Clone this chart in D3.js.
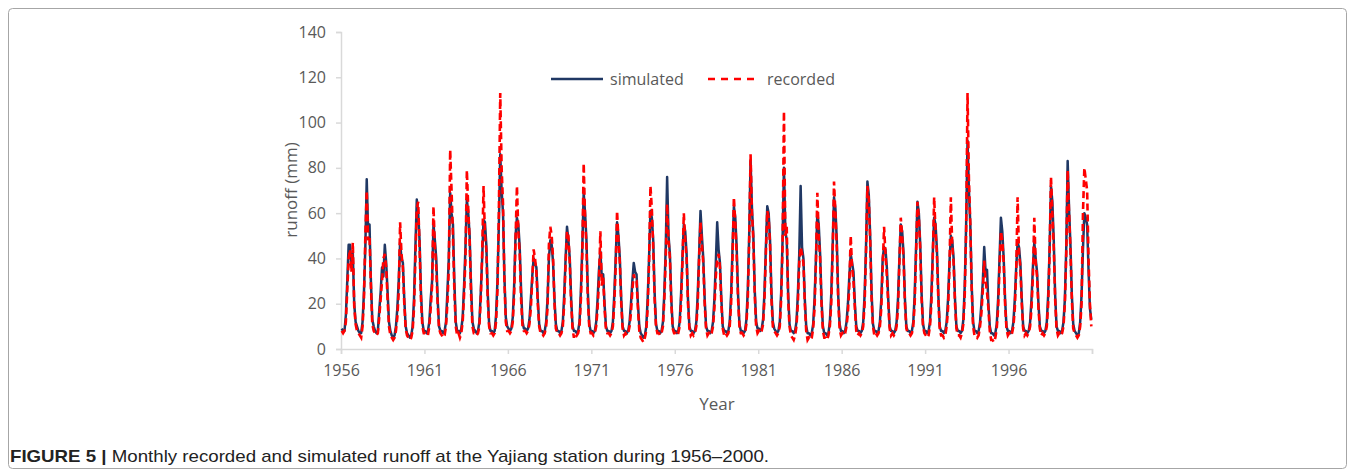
<!DOCTYPE html>
<html>
<head>
<meta charset="utf-8">
<script src="https://cdn.jsdelivr.net/npm/d3@7"></script>
<style>
	body { margin: 0; background: #fff; }
	svg { display: block; }
</style>
</head>
<body>
<svg></svg>
<script>
// monthly runoff (mm), one row of Jan..Dec per year, 1956-2000
var years = d3.range(1956, 2001);

var simulated = [
	[9,8,8,15,30,46,46,36,42,20,12,10],
	[8,7,7,12,25,45,75,52,55,30,13,10],
	[8,7,8,17,25,36,32,46,38,25,12,8],
	[6,5,6,10,18,30,47,40,38,22,10,7],
	[6,5,6,10,22,45,66,60,48,25,12,8],
	[8,7,8,12,22,30,55,48,40,22,10,8],
	[8,7,8,12,25,40,69,60,55,30,12,8],
	[8,7,9,14,28,45,66,60,50,28,12,9],
	[8,7,8,12,25,40,57,56,46,25,11,8],
	[8,7,8,15,30,55,86,70,60,32,14,10],
	[9,8,9,14,28,50,58,55,45,26,12,9],
	[9,8,9,13,22,32,40,38,36,22,11,8],
	[8,7,8,12,22,40,48,46,38,22,11,8],
	[8,7,8,12,24,40,54,48,40,22,10,8],
	[8,7,8,12,26,45,69,60,48,25,11,8],
	[8,7,8,12,22,35,43,32,33,20,10,8],
	[8,7,8,12,24,40,56,50,40,22,10,8],
	[8,7,8,12,20,30,38,34,33,20,10,7],
	[6,5,6,10,22,40,61,58,48,25,11,8],
	[8,7,8,12,25,45,76,50,42,22,10,8],
	[8,7,8,12,24,40,55,52,42,22,10,8],
	[8,7,8,12,24,42,61,50,40,22,10,8],
	[8,7,8,12,22,38,56,44,38,22,10,8],
	[8,7,8,12,24,44,63,58,45,24,11,8],
	[8,7,8,13,26,50,83,62,50,26,12,9],
	[9,8,9,13,25,45,63,60,48,25,12,9],
	[8,7,8,12,25,48,80,52,48,25,11,8],
	[8,7,8,12,24,42,72,45,40,22,10,7],
	[7,6,7,11,22,40,60,55,42,22,10,7],
	[7,6,7,12,24,45,67,62,48,24,11,8],
	[8,7,8,12,20,32,42,38,34,20,10,8],
	[8,7,8,12,24,45,74,68,50,25,11,8],
	[8,7,8,12,22,40,45,44,36,22,10,8],
	[8,7,8,12,22,40,55,52,42,22,10,8],
	[8,7,8,12,24,45,65,60,46,24,11,8],
	[8,7,8,12,24,42,58,55,44,24,10,8],
	[8,7,8,12,22,38,50,48,40,22,10,8],
	[8,7,8,13,28,55,92,70,55,28,12,8],
	[8,7,8,12,20,30,45,34,35,20,10,7],
	[7,6,7,11,22,40,58,52,40,22,10,8],
	[8,7,8,12,22,36,47,45,38,22,10,8],
	[8,7,8,12,22,36,47,40,34,20,10,8],
	[8,7,8,12,24,44,72,65,48,24,10,8],
	[8,7,8,12,22,45,83,62,46,24,11,8],
	[7,6,7,12,24,44,60,58,55,35,18,13]
];

var recorded = [
	[8,7,8,12,26,40,44,34,47,19,11,8],
	[7,6,5,10,22,50,70,48,50,28,11,8],
	[7,6,7,14,22,30,40,42,36,22,10,6],
	[5,4,5,8,14,25,56,42,36,20,9,6],
	[5,4,5,8,18,40,62,65,45,22,10,7],
	[7,6,6,10,18,28,63,45,36,20,9,7],
	[6,5,6,10,20,35,88,70,50,26,10,6],
	[7,5,7,12,24,40,79,62,48,25,10,7],
	[7,6,7,10,22,42,72,50,44,22,10,7],
	[7,6,7,12,26,60,113,80,64,30,12,8],
	[8,7,8,12,24,48,72,52,42,22,10,8],
	[8,7,8,11,18,30,44,40,34,20,10,7],
	[7,6,7,10,18,46,54,50,40,20,9,7],
	[7,6,7,10,20,38,52,50,38,20,9,5],
	[7,6,7,10,22,42,82,58,45,22,10,7],
	[7,6,7,10,18,30,52,28,32,18,9,7],
	[7,6,7,10,20,36,61,48,38,20,9,6],
	[7,6,7,10,16,26,33,30,30,18,8,5],
	[4,3,5,8,18,38,72,62,45,22,10,7],
	[7,6,7,10,22,40,64,48,40,20,9,7],
	[7,6,7,10,20,38,60,48,40,20,9,6],
	[7,6,7,10,20,40,56,46,38,20,9,6],
	[7,6,7,10,18,32,40,42,36,20,9,6],
	[7,6,7,10,20,40,67,56,42,22,10,7],
	[7,6,7,11,22,48,86,60,48,24,10,7],
	[8,7,8,11,22,42,61,58,46,22,10,8],
	[7,6,7,10,22,45,105,50,54,22,10,6],
	[5,4,6,10,20,38,45,42,38,20,8,4],
	[5,4,5,9,18,38,69,50,40,20,8,5],
	[5,4,6,10,20,42,74,60,45,22,9,6],
	[7,6,7,10,16,28,50,36,30,18,8,6],
	[7,6,7,10,20,42,72,66,48,22,10,6],
	[7,6,7,10,18,36,54,42,32,20,9,6],
	[7,6,7,10,18,38,58,50,40,20,9,7],
	[7,6,7,10,20,42,65,58,44,22,10,7],
	[6,5,6,10,20,40,67,52,42,22,9,6],
	[6,5,6,10,18,36,67,46,38,20,9,6],
	[6,5,7,11,24,52,113,75,55,26,10,6],
	[6,5,6,10,16,26,39,30,25,18,8,4],
	[4,3,5,9,18,36,52,48,38,20,9,6],
	[7,6,7,10,18,34,67,42,36,20,9,6],
	[7,6,7,10,18,32,58,38,32,18,9,6],
	[7,6,7,10,20,42,76,60,45,22,9,6],
	[7,6,7,10,20,42,79,60,44,22,9,7],
	[6,5,6,10,20,60,80,75,70,40,20,10]
];

var yTicks = [0, 20, 40, 60, 80, 100, 120, 140];

var W = 1355, H = 474;
var grey = '#595959';
var font = '"Open Sans", "Liberation Sans", sans-serif';

let svg = d3.select('svg').attr('width', W).attr('height', H);

// frame round the figure
svg.append('rect')
	.attr('x', 8.5).attr('y', 8.5)
	.attr('width', W - 17).attr('height', H - 14)
	.attr('rx', 4)
	.attr('fill', 'none')
	.attr('stroke', '#a6a6a6')
	.attr('stroke-width', 1);

// scales: one category per month
var nMonths = years.length * 12;
var x = d3.scaleLinear().domain([0, nMonths]).range([341, 1092]);
var y = d3.scaleLinear().domain([0, 140]).range([349, 32]);

var flat = (rows) => rows.flat().map((v, i) => ({ i: i, v: v }));

// axes
let yAxis = svg.append('g')
	.attr('transform', 'translate(341,0)')
	.call(d3.axisLeft(y).tickValues(yTicks).tickSize(5).tickPadding(10));
yAxis.selectAll('text').style('font-family', font).style('font-size', '16px').attr('fill', grey);

let xAxis = svg.append('g')
	.attr('transform', 'translate(0,349)')
	.call(d3.axisBottom(x)
		.tickValues(d3.range(0, nMonths + 1, 60))
		.tickSize(5)
		.tickPadding(11)
		.tickFormat((d) => (d < nMonths ? years[d / 12] : '')));
xAxis.selectAll('text').style('font-family', font).style('font-size', '16px').attr('fill', grey);

[yAxis, xAxis].forEach((a) => {
	a.select('.domain').attr('stroke', '#d9d9d9').attr('stroke-width', 1.5);
	a.selectAll('.tick line').attr('stroke', '#d9d9d9').attr('stroke-width', 1.5);
});

// axis titles
svg.append('text')
	.attr('x', 717).attr('y', 410)
	.attr('text-anchor', 'middle')
	.style('font-family', font).style('font-size', '17px')
	.attr('fill', grey)
	.text('Year');

svg.append('text')
	.attr('transform', 'translate(297,190) rotate(-90)')
	.attr('text-anchor', 'middle')
	.style('font-family', font).style('font-size', '17px')
	.attr('fill', grey)
	.text('runoff (mm)');

// lines
var line = d3.line().x((d) => x(d.i + 0.5)).y((d) => y(d.v)).curve(d3.curveLinear);

svg.append('path')
	.datum(flat(simulated))
	.attr('d', line)
	.attr('fill', 'none')
	.attr('stroke', '#203864')
	.attr('stroke-width', 2.5)
	.attr('stroke-linejoin', 'round');

svg.append('path')
	.datum(flat(recorded))
	.attr('d', line)
	.attr('fill', 'none')
	.attr('stroke', '#ff0000')
	.attr('stroke-width', 2.6)
	.attr('stroke-dasharray', '7,4');

// legend
var legend = [
	{ name: 'simulated', color: '#203864', dash: null, x: 551 },
	{ name: 'recorded', color: '#ff0000', dash: '7,6', x: 708 }
];
let lg = svg.selectAll('.legend')
	.data(legend)
	.enter()
	.append('g')
	.attr('class', 'legend')
	.attr('transform', (d) => 'translate(' + d.x + ',79)');
lg.append('line')
	.attr('x1', 0).attr('x2', 52)
	.attr('stroke', (d) => d.color)
	.attr('stroke-width', 2.6)
	.attr('stroke-dasharray', (d) => d.dash);
lg.append('text')
	.attr('x', 59).attr('dy', '0.35em')
	.style('font-family', font).style('font-size', '16px')
	.attr('fill', grey)
	.text((d) => d.name);

// caption
let cap = svg.append('text')
	.attr('x', 10).attr('y', 462)
	.style('font-family', '"Liberation Sans Narrow", "Liberation Sans", sans-serif')
	.style('font-size', '17px')
	.attr('fill', '#222');
cap.append('tspan').style('font-weight', 'bold').text('FIGURE 5 | ');
cap.append('tspan').text('Monthly recorded and simulated runoff at the Yajiang station during 1956\u20132000.');
cap.attr('textLength', 759).attr('lengthAdjust', 'spacingAndGlyphs');
</script>
</body>
</html>
